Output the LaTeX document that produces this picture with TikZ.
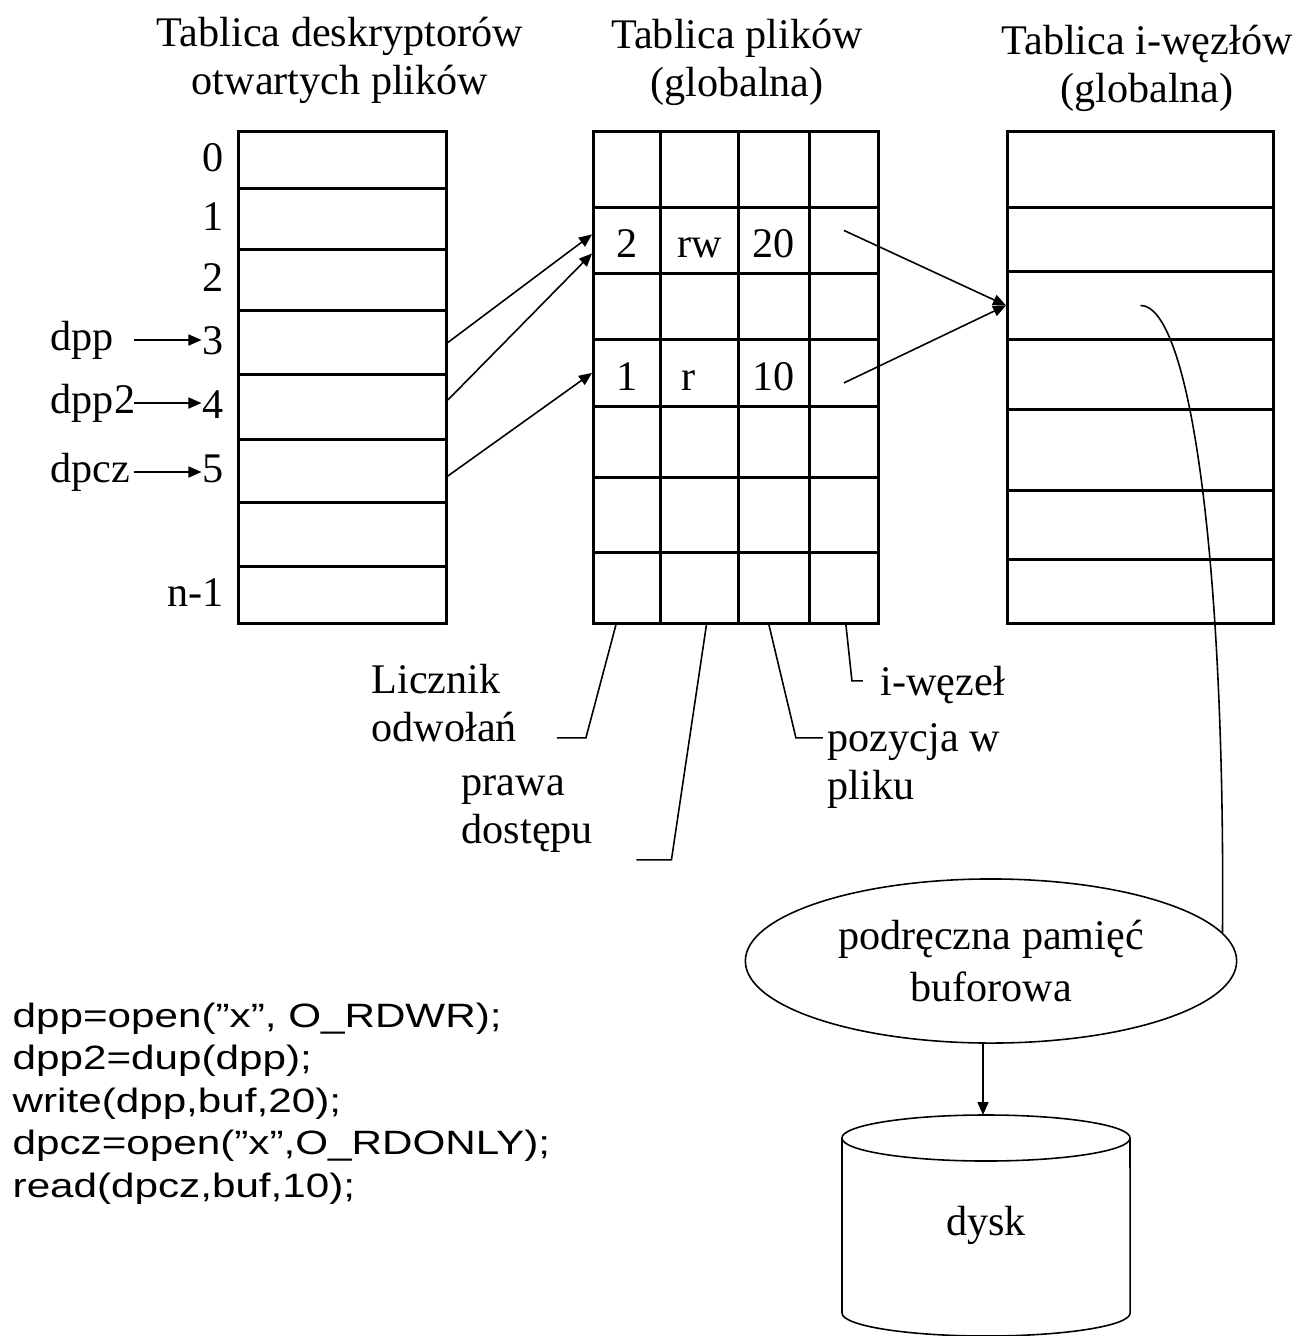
\documentclass[tikz,border=0pt]{standalone}
\usepackage{fontspec}
\setmainfont{Liberation Serif}
\newfontfamily\codefont{Liberation Sans}
\usetikzlibrary{positioning, arrows.meta, shapes}
\newcommand{\squash}[1]{\scalebox{1}[0.8]{#1}}

\begin{document}
\begin{tikzpicture}[x=0.01cm, y=-0.01cm,
	every node/.style={font=\fontsize{12}{13.6}\selectfont},
	cell/.style={draw, line width=0.8pt, inner sep=0, anchor=north west},
	num/.style={inner sep=0},
	val/.style={inner sep=0, text height=0.68em, text depth=0pt},
	ptr/.style={line width=0.45pt, -{Triangle[length=1.3mm, width=1.1mm]}},
	lead/.style={line width=0.45pt}]
\useasboundingbox (0,0) rectangle (1311,1336);

% naglowki
\node[align=center] (t1) at (340,60) {Tablica deskryptorów\\otwartych plików};
\node[align=center] (t2) at (737,62) {Tablica plików\\(globalna)};
\node[align=center] (t3) at (1147,68) {Tablica i-węzłów\\(globalna)};

% tablica deskryptorow
\foreach \a/\b [count=\i from 0] in {130/187,187/248,248/309,309/373,373/438,438/501,501/565,565/622}{
	\pgfmathsetmacro\h{(\b-\a)/100}
	\node[cell, minimum width=2.08cm, minimum height=\h cm] (l\i) at (237,\a) {};
}
\foreach \i/\t in {0/0,1/1,2/2,3/3,4/4,5/5,7/n-1}
	\node[val, left=0.13cm of l\i] (n\i) {\t};

\node[num, anchor=west, text width=0.83cm, align=left] (dpp) at (50,340) {dpp};
\node[num, anchor=west, text width=0.83cm, align=left] (dpp2) at (50,403) {dpp2};
\node[num, anchor=west, text width=0.83cm, align=left] (dpcz) at (50,472) {dpcz};
\draw[ptr] (dpp.east) -- (dpp.east -| n3.west);
\draw[ptr] (dpp2.east) -- (dpp2.east -| n4.west);
\draw[ptr] (dpcz.east) -- (dpcz.east -| n5.west);

% tablica plikow
\foreach \a/\b [count=\r from 0] in {130/206,206/272,272/338,338/405,405/476,476/551,551/622}{
	\pgfmathsetmacro\h{(\b-\a)/100}
	\foreach \x/\w [count=\c from 0] in {592/67,659/78,737/71,808/69}{
		\pgfmathsetmacro\cw{\w/100}
		\node[cell, minimum width=\cw cm, minimum height=\h cm] (m\r-\c) at (\x,\a) {};
	}
}
\node[val] (v1) at ([yshift=-0.05cm]m1-0.center) {2};
\node[val] (v2) at ([yshift=-0.05cm]m1-1.center) {rw};
\node[val] (v3) at ([yshift=-0.05cm]m1-2.center) {20};
\node[val] (v4) at ([yshift=-0.06cm]m3-0.center) {1};
\node[val] (v5) at ([xshift=-0.11cm, yshift=-0.06cm]m3-1.center) {r};
\node[val] (v6) at ([yshift=-0.06cm]m3-2.center) {10};

% tablica i-wezlow
\foreach \a/\b [count=\i from 0] in {130/206,206/270,270/338,338/408,408/489,489/558,558/622}{
	\pgfmathsetmacro\h{(\b-\a)/100}
	\node[cell, minimum width=2.66cm, minimum height=\h cm] (r\i) at (1006,\a) {};
}

\draw[ptr] (l3.east) -- ([yshift=0.06cm]m1-0.west);
\draw[ptr] ([yshift=0.07cm]l4.east) -- ([yshift=-0.13cm]m1-0.west);
\draw[ptr] ([yshift=-0.05cm]l5.east) -- (m3-0.west);
\draw[ptr] ([yshift=0.1cm]m1-3.center) -- (r2.west);
\draw[ptr] ([yshift=-0.1cm]m3-3.center) -- (r2.west);

% opisy kolumn
\node[num, anchor=west, align=left] (lic) at (371,703) {Licznik\\odwołań};
\node[num, anchor=west, align=left] (praw) at (461,814) {prawa\\dostępu};
\node[num, anchor=west, align=left] (poz) at (827,766) {pozycja w\\pliku};
\node[num, anchor=west] (iwez) at (880,685) {i-węzeł};
\draw[lead] ([xshift=-0.11cm]m6-0.south) -- ++(-30,113) -- ++(-29,0);
\draw[lead] ([xshift=0.07cm]m6-1.south) -- ++(-35,235) -- ++(-35,0);
\draw[lead] ([xshift=-0.05cm]m6-2.south) -- ++(27,113) -- ++(27,0);
\draw[lead] ([xshift=0.02cm]m6-3.south) -- ++(6,56) -- ++(11,0);

% pamiec buforowa i dysk
\node[draw, ellipse, line width=0.45pt, minimum width=4.91cm, minimum height=1.64cm,
	inner sep=0, align=center, font=\fontsize{12}{14.8}\selectfont] (buf) at (991,961) {podręczna pamięć\\buforowa};
\draw[lead] (r2.center) .. controls +(50,0) and +(3,-370) .. (buf.7);

\coordinate (dtop) at (983,1115);
\draw[ptr] (buf.south -| dtop) -- (dtop);
\draw[lead] (986,1138) ellipse [x radius=1.44cm, y radius=0.23cm];
\draw[lead] (842,1138) -- (842,1313) arc[start angle=180, end angle=360, x radius=1.44cm, y radius=0.23cm] -- (1130,1138);
\node (dysk) at (986,1225) {dysk};

% kod
\node[num, anchor=north west, align=left, font=\codefont\fontsize{12}{12.1}\selectfont] (code) at (12,1002)
	{\squash{dpp=open(”x”, O\_RDWR);}\\\squash{dpp2=dup(dpp);}\\\squash{write(dpp,buf,20);}\\
	 \squash{dpcz=open(”x”,O\_RDONLY);}\\\squash{read(dpcz,buf,10);}};
\end{tikzpicture}
\end{document}
